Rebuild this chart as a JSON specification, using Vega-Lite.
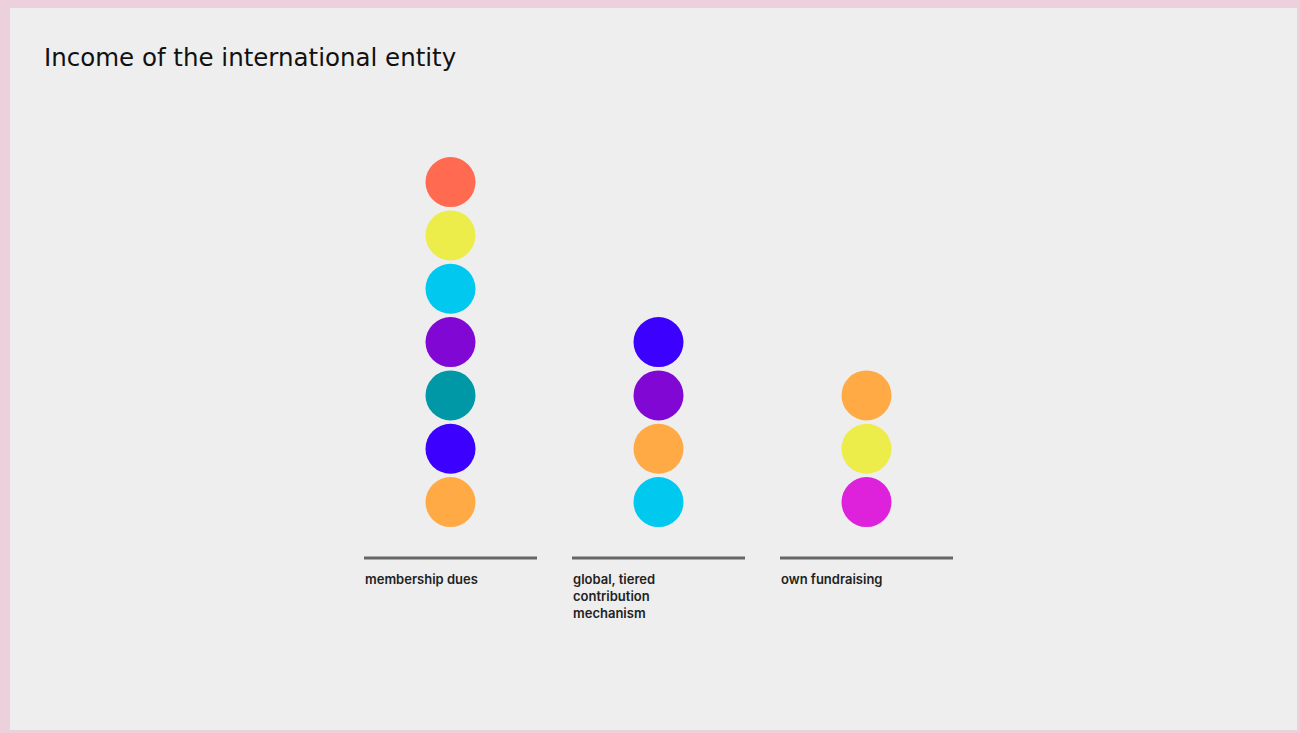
{
  "$schema": "https://vega.github.io/schema/vega-lite/v6.json",
  "width": 1300,
  "height": 733,
  "autosize": {"type": "fit", "contains": "padding"},
  "padding": {"left": 10, "top": 8, "right": 3, "bottom": 3},
  "background": "#ecd1dd",
  "title": {
    "text": "Income of the international entity",
    "anchor": "start",
    "frame": "group",
    "offset": -63,
    "dx": 34,
    "font": "DejaVu Sans",
    "fontSize": 24.5,
    "fontWeight": "normal",
    "color": "#111111"
  },
  "data": {
    "values": [
      {"source": "membership dues", "position": 1, "colour": "orange"},
      {"source": "membership dues", "position": 2, "colour": "blue"},
      {"source": "membership dues", "position": 3, "colour": "teal"},
      {"source": "membership dues", "position": 4, "colour": "purple"},
      {"source": "membership dues", "position": 5, "colour": "cyan"},
      {"source": "membership dues", "position": 6, "colour": "yellow"},
      {"source": "membership dues", "position": 7, "colour": "coral"},
      {"source": "global, tiered contribution mechanism", "position": 1, "colour": "cyan"},
      {"source": "global, tiered contribution mechanism", "position": 2, "colour": "orange"},
      {"source": "global, tiered contribution mechanism", "position": 3, "colour": "purple"},
      {"source": "global, tiered contribution mechanism", "position": 4, "colour": "blue"},
      {"source": "own fundraising", "position": 1, "colour": "magenta"},
      {"source": "own fundraising", "position": 2, "colour": "yellow"},
      {"source": "own fundraising", "position": 3, "colour": "orange"}
    ]
  },
  "layer": [
    {
      "transform": [{"filter": "datum.position == 1"}],
      "mark": {"type": "tick", "size": 173, "thickness": 3, "color": "#666666", "opacity": 1},
      "encoding": {
        "x": {
          "field": "source",
          "type": "nominal",
          "sort": ["membership dues", "global, tiered contribution mechanism", "own fundraising"],
          "scale": {"type": "band", "range": [354, 943], "paddingInner": 0.16827, "paddingOuter": 0},
          "axis": {
            "title": null,
            "offset": -157,
            "domain": false,
            "ticks": false,
            "grid": false,
            "labelPadding": 0,
            "labelOffset": -85.5,
            "labelAlign": "left",
            "labelBaseline": "top",
            "labelAngle": 0,
            "labelFont": "Inter",
            "labelFontSize": 13,
            "labelFontWeight": 600,
            "labelColor": "#222222",
            "labelLineHeight": 17,
            "labelOverlap": false,
            "labelLimit": 300,
            "labelExpr": "datum.label == 'global, tiered contribution mechanism' ? ['global, tiered', 'contribution', 'mechanism'] : datum.label"
          }
        },
        "y": {"datum": -0.05, "type": "quantitative", "axis": null}
      }
    },
    {
      "mark": {"type": "point", "filled": true, "shape": "circle", "opacity": 1, "size": 2500},
      "encoding": {
        "x": {"field": "source", "type": "nominal", "sort": ["membership dues", "global, tiered contribution mechanism", "own fundraising"]},
        "y": {
          "field": "position",
          "type": "quantitative",
          "scale": {"domain": [-3.274, 10.264], "nice": false, "zero": false},
          "axis": null
        },
        "color": {
          "field": "colour",
          "type": "nominal",
          "scale": {
            "domain": ["coral", "yellow", "cyan", "purple", "teal", "blue", "orange", "magenta"],
            "range": ["#ff6a50", "#ecec4b", "#00c8ef", "#8108d4", "#0097a7", "#3b00fe", "#ffaa44", "#de22dc"]
          },
          "legend": null
        }
      }
    }
  ],
  "config": {
    "view": {"stroke": null, "fill": "#eeeeee"}
  }
}
